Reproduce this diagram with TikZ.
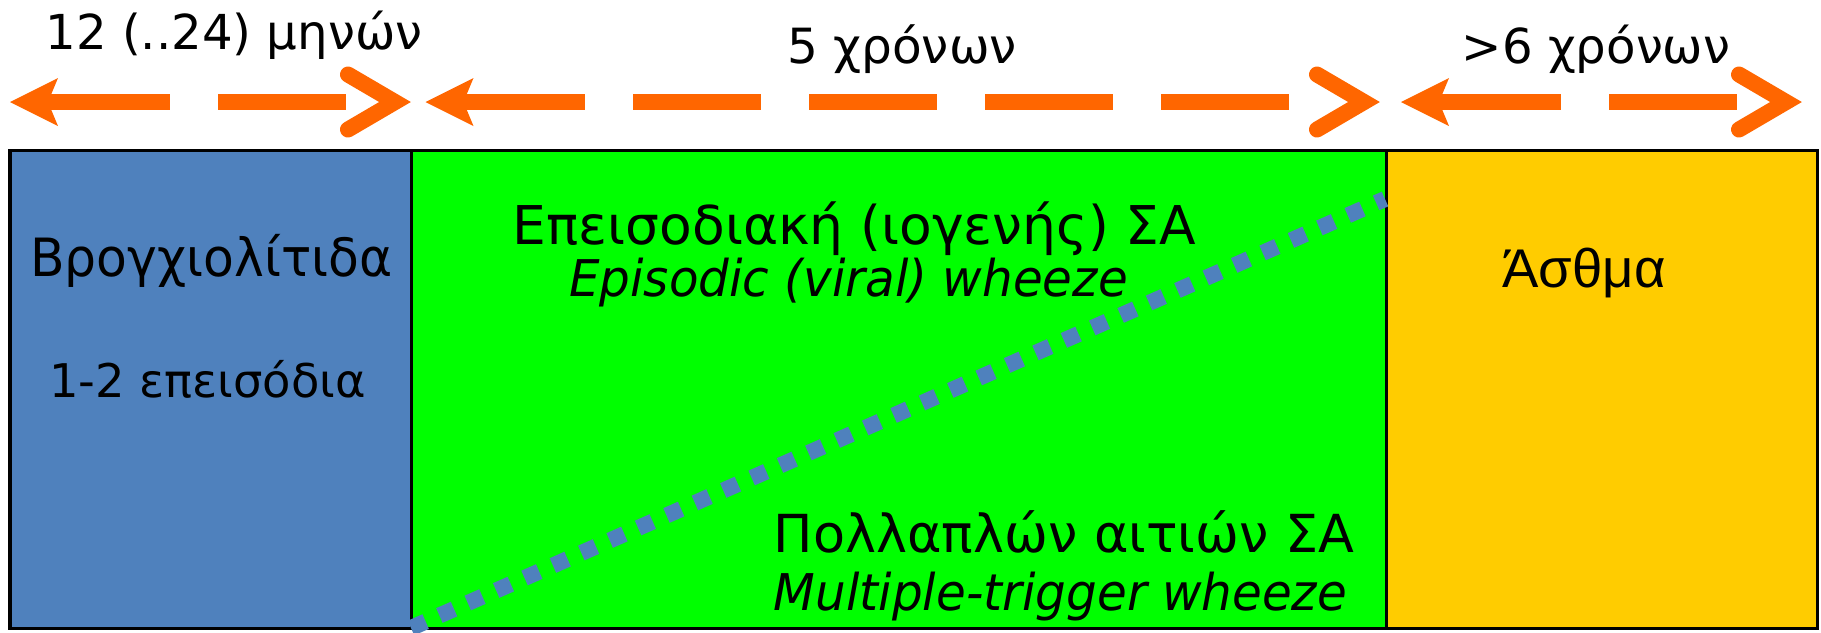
\documentclass[tikz,border=0pt]{standalone}
\usepackage{fontspec}
\setmainfont{DejaVu Sans}
\newfontfamily\condfont[FakeStretch=0.955]{DejaVu Sans}
\newfontfamily\arialfont{Liberation Sans}
\definecolor{arroworange}{HTML}{FF6600}
\definecolor{boxblue}{HTML}{4F81BD}
\definecolor{boxgreen}{HTML}{00FF00}
\definecolor{boxyellow}{HTML}{FFCC00}
\begin{document}
\begin{tikzpicture}[x=0.01cm,y=-0.01cm,
  boxframe/.style={draw=black, line width=0.03cm},
  shaft/.style={draw=arroworange, line width=0.16cm, dash pattern=on 1.28cm off 0.48cm},
  chevron/.style={draw=arroworange, line width=0.16cm, line cap=round, line join=miter},
  lefthead/.style={fill=arroworange},
  dotline/.style={draw=boxblue, line width=0.16cm, dash pattern=on 0.16cm off 0.15cm},
  lbl/.style={anchor=base, inner sep=0pt, text=black}]
\useasboundingbox (0,0) rectangle (1821,632);
% boxes
\fill[boxblue] (10,150) rectangle (411,628);
\fill[boxgreen] (411,150) rectangle (1386,628);
\fill[boxyellow] (1386,150) rectangle (1817,628);
\draw[boxframe] (10,150) rectangle (1817,628);
\draw[boxframe] (411,150) -- (411,628);
\draw[boxframe] (1386,150) -- (1386,628);
% arrows
\foreach \tl/\ds/\de/\tr in {10/42/346/411, 425.5/457/1289/1380, 1401/1433/1737/1802}{
  \fill[lefthead] (\tl,102) -- ({\tl+48},78) -- ({\tl+38},102) -- ({\tl+48},126) -- cycle;
  \draw[shaft] (\ds,102) -- (\de,102);
  \draw[chevron] ({\tr-63},74.5) -- ({\tr-16},102) -- ({\tr-63},129.5);
}
% diagonal dotted line
\coordinate (dotA) at (411,628);
\coordinate (dotB) at (1385,199);
\draw[dotline] (dotA) -- (dotB);
% labels
\node[lbl, font=\fontsize{13.7}{16}\selectfont] (t1) at (234,49) {12 (..24) μηνών};
\node[lbl, font=\fontsize{13.8}{16}\selectfont] (t2) at (902,63) {5 χρόνων};
\node[lbl, font=\fontsize{13.7}{16}\selectfont] (t3) at (1596,63) {>6 χρόνων};
\node[lbl, font=\fontsize{15}{18}\condfont] (b1) at (211.5,276) {Βρογχιολίτιδα};
\node[lbl, font=\fontsize{13.2}{16}\selectfont] (b2) at (207.5,397) {1-2 επεισόδια};
\node[lbl, font=\fontsize{15.2}{18}\selectfont] (g1) at (854.5,244) {Επεισοδιακή (ιογενής) ΣΑ};
\node[lbl, font=\fontsize{14.4}{17}\condfont\itshape] (g2) at (848.5,296) {Episodic (viral) wheeze};
\node[lbl, font=\fontsize{14.9}{17}\selectfont] (g3) at (1064,552) {Πολλαπλών αιτιών ΣΑ};
\node[lbl, font=\fontsize{14.4}{17}\condfont\itshape] (g4) at (1060.5,610) {Multiple-trigger wheeze};
\node[lbl, font=\fontsize{15.5}{18}\arialfont] (y1) at (1584,287) {Άσθμα};
\end{tikzpicture}
\end{document}
